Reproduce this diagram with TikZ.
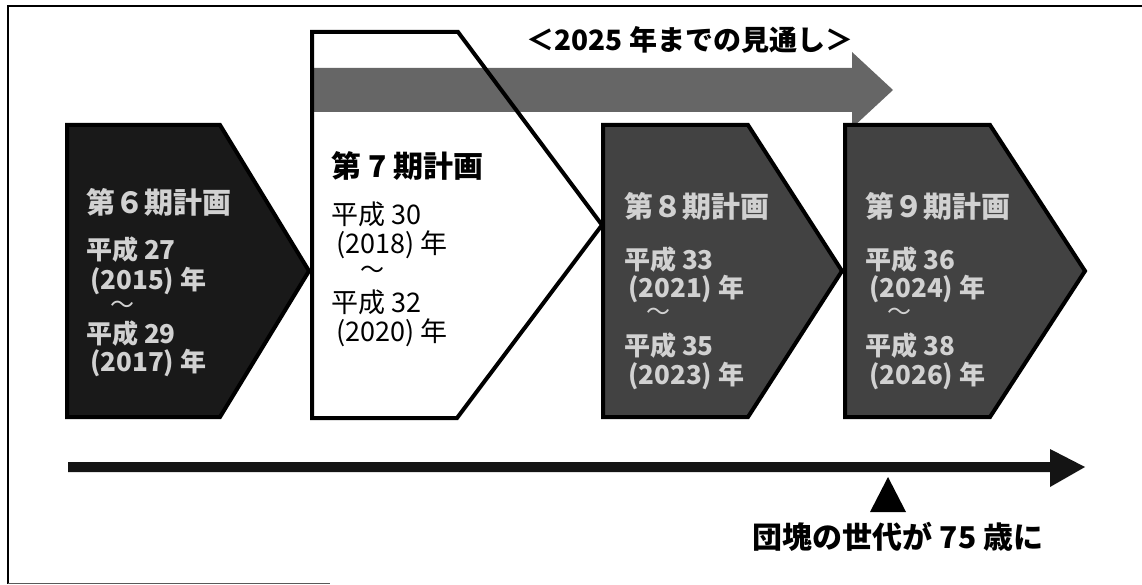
\documentclass[tikz,border=0pt]{standalone}
\usepackage{fontspec}
\setmainfont{Noto Sans CJK JP}
\begin{document}
\begin{tikzpicture}[x=1pt,y=-1pt,
  pent/.style={line width=4pt, line join=miter, draw=black},
  darktxt/.style={anchor=west, text=white!82!black, font=\bfseries\fontsize{26}{26}\selectfont, inner sep=0pt},
  darkttl/.style={anchor=west, text=white!82!black, font=\bfseries\fontsize{29}{29}\selectfont, inner sep=0pt},
  lighttxt/.style={anchor=west, text=black, font=\fontsize{27}{27}\selectfont, inner sep=0pt},
  lightttl/.style={anchor=west, text=black, font=\bfseries\fontsize{30}{30}\selectfont, inner sep=0pt},
  tilde/.style={inner sep=0pt, font=\fontsize{24}{24}\selectfont}]
\useasboundingbox (0,0) rectangle (1142,585);
% frame
\draw[line width=2pt] (1142,6) -- (8,6) -- (8,584);
\draw[line width=1.2pt, black!65] (8,583.4) -- (330,583.4);

% plan 6
\filldraw[pent, fill=black!90] (67,125) -- (220,125) -- (309,271) -- (220,417) -- (67,417) -- cycle;
\node[darkttl] (t6) at (86,202) {第６期計画};
\node[darktxt] (a6) at (86,250) {平成 27};
\node[darktxt] (b6) at (90,281) {(2015) 年};
\node[tilde, text=white!82!black] (c6) at (122,307) {～};
\node[darktxt] (d6) at (86,334) {平成 29};
\node[darktxt] (e6) at (90,363) {(2017) 年};

% plan 7
\fill[white] (312,32) -- (458,32) -- (602,225) -- (457,418) -- (312,418) -- cycle;
\fill[black!60] (312,68) -- (852,68) -- (852,52) -- (893,90) -- (852,128) -- (852,112) -- (312,112) -- cycle;
\draw[pent] (312,32) -- (458,32) -- (602,225) -- (457,418) -- (312,418) -- cycle;
\node[lightttl] (t7) at (331,166) {第 7 期計画};
\node[lighttxt] (a7) at (331,214) {平成 30};
\node[lighttxt] (b7) at (336,245) {(2018) 年};
\node[tilde] (c7) at (372,272) {～};
\node[lighttxt] (d7) at (331,302) {平成 32};
\node[lighttxt] (e7) at (336,333) {(2020) 年};

\node[inner sep=0pt, font=\bfseries\fontsize{28}{28}\selectfont] (ttl) at (690,40) {＜2025 年までの見通し＞};

% plan 8
\filldraw[pent, fill=black!74] (603,125) -- (748,125) -- (842,271) -- (748,417) -- (603,417) -- cycle;
\node[darkttl] (t8) at (624,206) {第８期計画};
\node[darktxt] (a8) at (624,260) {平成 33};
\node[darktxt] (b8) at (628,289) {(2021) 年};
\node[tilde, text=white!82!black] (c8) at (658,314) {～};
\node[darktxt] (d8) at (624,346) {平成 35};
\node[darktxt] (e8) at (628,376) {(2023) 年};

% plan 9
\filldraw[pent, fill=black!74] (845,125) -- (990,125) -- (1085,271) -- (990,417) -- (845,417) -- cycle;
\node[darkttl] (t9) at (865,206) {第９期計画};
\node[darktxt] (a9) at (865,260) {平成 36};
\node[darktxt] (b9) at (869,289) {(2024) 年};
\node[tilde, text=white!82!black] (c9) at (899,314) {～};
\node[darktxt] (d9) at (865,346) {平成 38};
\node[darktxt] (e9) at (869,376) {(2026) 年};

% timeline
\fill[black!92] (68,462) -- (1050,462) -- (1050,449) -- (1085,467) -- (1050,487) -- (1050,472) -- (68,472) -- cycle;
\fill[black] (888,477) -- (906,512) -- (870,512) -- cycle;
\node[inner sep=0pt, font=\bfseries\fontsize{30}{30}\selectfont] (gen) at (898,537) {団塊の世代が 75 歳に};
\end{tikzpicture}
\end{document}
